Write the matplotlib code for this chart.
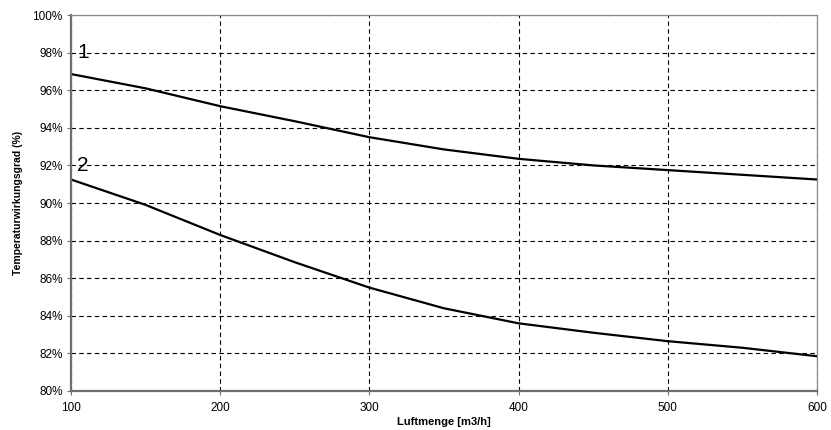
import matplotlib
matplotlib.use("Agg")
import matplotlib.pyplot as plt
from matplotlib.ticker import FuncFormatter

plt.rcParams['font.family'] = ['Liberation Sans', 'DejaVu Sans']

airflow = [100, 150, 200, 250, 300, 350, 400, 450, 500, 550, 600]
eff_1 = [96.86, 96.1, 95.15, 94.35, 93.5, 92.85, 92.35, 92.0, 91.75, 91.5, 91.25]
eff_2 = [91.25, 89.9, 88.3, 86.85, 85.5, 84.4, 83.6, 83.1, 82.65, 82.3, 81.85]
x_ticks = [100, 200, 300, 400, 500, 600]
y_ticks = [80, 82, 84, 86, 88, 90, 92, 94, 96, 98, 100]

fig = plt.figure(figsize=(8.31, 4.30), dpi=100)
ax = fig.add_axes([0.0854, 0.0907, 0.8977, 0.8744])

ax.plot(airflow, eff_1, color='black', lw=1.6)
ax.plot(airflow, eff_2, color='black', lw=1.6)

ax.set_xlim(100, 600)
ax.set_ylim(80, 100)
ax.set_xticks(x_ticks)
ax.set_yticks(y_ticks)
ax.yaxis.set_major_formatter(FuncFormatter(lambda v, p: f"{v:.0f}%"))
ax.grid(True, color='black', linestyle=(0, (4, 3)), linewidth=0.8)
ax.set_axisbelow(True)

for s in ['left', 'bottom']:
    ax.spines[s].set_color('#6e6e6e')
    ax.spines[s].set_linewidth(1.6)
for s in ['top', 'right']:
    ax.spines[s].set_color('#8a8a8a')
    ax.spines[s].set_linewidth(0.9)

ax.tick_params(axis='both', labelsize=8.5, length=3, color='#6e6e6e', pad=3)
ax.tick_params(axis='x', pad=5)

ax.set_xlabel('Luftmenge [m3/h]', fontsize=8, fontweight='bold', labelpad=2)
ax.set_ylabel('Temperaturwirkungsgrad (%)', fontsize=7.5, fontweight='bold', labelpad=7)

ax.text(104, 98.0, '1', fontsize=15, va='center', ha='left')
ax.text(104, 92.0, '2', fontsize=15, va='center', ha='left')

fig.savefig('out.png', dpi=100)
